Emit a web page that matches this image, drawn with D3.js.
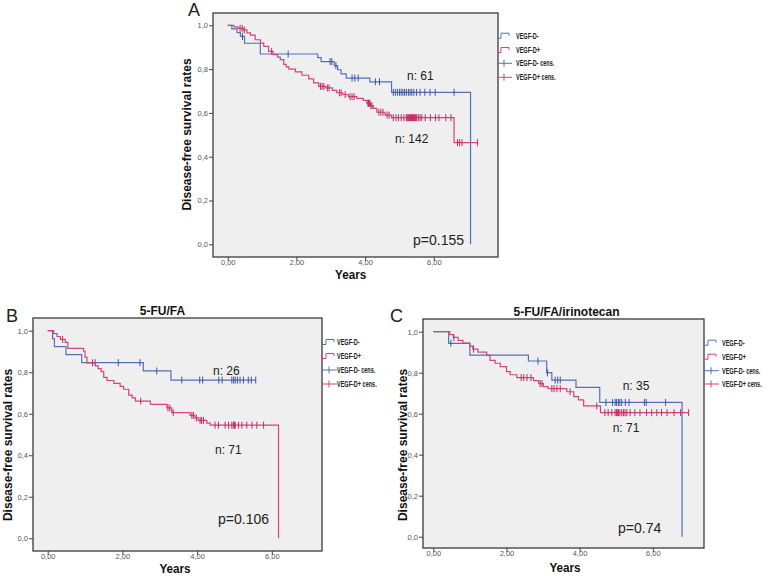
<!DOCTYPE html>
<html><head><meta charset="utf-8">
<script src="https://cdn.jsdelivr.net/npm/d3@7"></script>
<style>body{margin:0;background:#fff} svg{display:block} text{font-family:Arial,"Liberation Sans",sans-serif}</style>
</head><body><svg id="c" width="778" height="576"></svg>
<script>
// ---------- data ----------
const yTicks = [0, 0.2, 0.4, 0.6, 0.8, 1.0];
const yTickLabels = ["0,0", "0,2", "0,4", "0,6", "0,8", "1,0"];
const xTicks = [0, 2, 4, 6];
const xTickLabels = ["0,00", "2,00", "4,00", "6,00"];
const legendLabels = ["VEGF-D-", "VEGF-D+", "VEGF-D- cens.", "VEGF-D+ cens."];
const panelLetters = ["A", "B", "C"];
const panelTitles = ["", "5-FU/FA", "5-FU/FA/irinotecan"];
const nNegLabels = ["n: 61", "n: 26", "n: 35"];
const nPosLabels = ["n: 142", "n: 71", "n: 71"];
const pLabels = ["p=0.155", "p=0.106", "p=0.74"];
const yAxisTitle = "Disease-free survival rates";
const xAxisTitle = "Years";

// Panel A  [years, survival]
const stepsANeg = [[0,1],[0.12,0.984],[0.27,0.967],[0.37,0.949],[0.49,0.918],[0.95,0.869],[2.62,0.852],[2.72,0.834],[3.1,0.816],[3.2,0.797],[3.3,0.778],[3.45,0.759],[4.14,0.742],[4.77,0.694],[7.07,0]];
const censANeg = [0.43,1.76,2.98,3.03,3.15,3.62,3.7,3.8,4.3,4.42,4.82,4.88,4.94,5.0,5.05,5.1,5.15,5.2,5.26,5.31,5.36,5.42,5.5,5.6,5.74,5.89,6.04,6.59];
const stepsAPos = [[0,1],[0.18,0.993],[0.3,0.986],[0.45,0.979],[0.56,0.965],[0.66,0.955],[0.8,0.934],[0.95,0.919],[1.05,0.904],[1.19,0.881],[1.32,0.866],[1.45,0.855],[1.53,0.843],[1.63,0.822],[1.7,0.81],[1.78,0.8],[1.97,0.787],[2.16,0.772],[2.36,0.755],[2.5,0.737],[2.65,0.721],[2.85,0.714],[3.05,0.703],[3.17,0.692],[3.35,0.684],[3.51,0.674],[3.76,0.666],[3.95,0.657],[4.05,0.644],[4.15,0.633],[4.24,0.621],[4.34,0.603],[4.58,0.59],[4.77,0.578],[6.59,0.464]];
const censAPos = [0.36,0.42,0.48,1.28,2.7,2.75,2.8,2.9,2.95,3.25,3.3,3.42,3.56,3.62,3.68,4.08,4.1,4.12,4.14,4.17,4.2,4.4,4.46,4.52,4.64,4.7,4.82,4.9,4.97,5.05,5.13,5.2,5.23,5.26,5.29,5.32,5.35,5.38,5.41,5.44,5.47,5.5,5.55,5.6,5.65,5.75,5.9,6.05,6.15,6.35,6.5,6.69,6.75,6.82,7.27];

// Panel B
const stepsBNeg = [[0,1],[0.13,0.962],[0.18,0.923],[0.49,0.885],[0.91,0.846],[2.56,0.806],[3.3,0.762]];
const censBNeg = [1.27,1.89,2.47,2.92,3.59,4.07,4.15,4.58,4.67,4.93,4.98,5.02,5.08,5.15,5.24,5.37,5.45,5.57];
const stepsBPos = [[0,1],[0.16,0.986],[0.25,0.972],[0.34,0.958],[0.47,0.944],[0.54,0.915],[0.96,0.901],[1.0,0.873],[1.05,0.845],[1.28,0.831],[1.35,0.817],[1.43,0.803],[1.5,0.775],[1.59,0.76],[1.77,0.746],[1.94,0.732],[2.03,0.718],[2.17,0.69],[2.26,0.676],[2.35,0.661],[2.75,0.645],[3.19,0.628],[3.32,0.605],[3.81,0.592],[3.94,0.58],[4.03,0.568],[4.26,0.555],[4.35,0.545],[6.18,0]];
const censBPos = [0.4,1.2,2.49,3.22,3.27,3.36,3.86,3.9,3.98,4.08,4.12,4.17,4.48,4.57,4.75,4.84,4.93,4.97,5.0,5.02,5.11,5.2,5.33,5.47,5.6,5.78];

// Panel C
const stepsCNeg = [[0,1],[0.42,0.943],[1.0,0.886],[2.6,0.857],[3.1,0.8],[3.24,0.764],[3.9,0.728],[4.55,0.655],[6.8,0]];
const censCNeg = [0.48,2.86,3.12,3.33,3.4,3.47,4.72,4.9,4.97,5.01,5.06,5.1,5.15,5.25,5.35,5.77,5.82,6.35];
const stepsCPos = [[0,1],[0.45,0.986],[0.55,0.972],[0.68,0.958],[0.81,0.944],[1.0,0.93],[1.08,0.915],[1.22,0.9],[1.46,0.886],[1.55,0.86],[1.69,0.846],[1.83,0.83],[2.0,0.805],[2.1,0.79],[2.28,0.776],[2.74,0.761],[2.88,0.747],[3.01,0.732],[3.14,0.722],[3.65,0.707],[3.84,0.683],[3.97,0.667],[4.11,0.638],[4.57,0.605]];
const censCPos = [0.56,1.1,2.4,2.47,2.56,2.67,2.92,2.97,3.24,3.3,3.38,3.47,3.74,4.47,4.69,4.78,4.88,4.97,5.01,5.04,5.06,5.1,5.15,5.2,5.24,5.29,5.38,5.51,5.65,5.83,5.97,6.11,6.24,6.39,6.58,6.76,6.98];

// ---------- layout ----------
const COL_NEG = "#5670b6", COL_NEG_C = "#3d55a6";
const COL_POS = "#d0457a", COL_POS_C = "#c42a66";

const panels = [
  {frame:[213,13,498,257], xr:[227.7,433.8], yr:[244.3,25.3], legX:497, legTX:516, legY:[35.7,50,63.3,77.3],
   letter:[188,16], title:null, ylab:[191,134.5], years:[350.7,278.5], nNegP:[407,80], nPosP:[395,143], pP:[413,244.5],
   neg:stepsANeg, pos:stepsAPos, cneg:censANeg, cpos:censAPos},
  {frame:[33,318,322,551], xr:[47.7,271.8], yr:[538.3,330.7], legX:322, legTX:337, legY:[342,356,370,384],
   letter:[6,322], title:[162.5,315], ylab:[12,445], years:[175,573], nNegP:[213,375], nPosP:[215,454], pP:[218,523.5],
   neg:stepsBNeg, pos:stepsBPos, cneg:censBNeg, cpos:censBPos},
  {frame:[423,319,704,548], xr:[433.3,652.8], yr:[536.7,331.7], legX:704, legTX:722, legY:[342.7,356.7,370.7,384],
   letter:[390,322], title:[566.5,316], ylab:[407,445], years:[565,571.5], nNegP:[622.7,390], nPosP:[612.7,431.7], pP:[618,533],
   neg:stepsCNeg, pos:stepsCPos, cneg:censCNeg, cpos:censCPos}
];

const svg = d3.select("#c");

function txt(g, x, y, s, o) {
  o = o || {};
  return g.append("text")
    .attr("transform", `translate(${x},${y})` + (o.rot ? ` rotate(${o.rot})` : "") + ` scale(${o.sx || 1},1)`)
    .attr("font-size", o.size || 10)
    .attr("font-weight", o.bold ? "bold" : "normal")
    .attr("fill", o.fill || "#222")
    .attr("text-anchor", o.anchor || "start")
    .text(s);
}

function survAt(steps, t) {
  let s = steps[0][1];
  for (const d of steps) { if (d[0] <= t) s = d[1]; }
  return s;
}

panels.forEach((p, i) => {
  const g = svg.append("g");
  const [fx0, fy0, fx1, fy1] = p.frame;
  const x = d3.scaleLinear().domain([0, 6]).range(p.xr);
  const y = d3.scaleLinear().domain([0, 1]).range(p.yr);

  g.append("rect").attr("x", fx0).attr("y", fy0).attr("width", fx1 - fx0).attr("height", fy1 - fy0)
    .attr("fill", "#efefef").attr("stroke", "none");

  // y axis
  const ya = d3.axisLeft(y).tickValues(yTicks).tickSize(4).tickFormat((d, k) => yTickLabels[k]);
  const yg = g.append("g").attr("transform", `translate(${fx0},0)`).call(ya);
  yg.select(".domain").remove();
  yg.selectAll("line").attr("stroke", "#444");
  yg.selectAll("text").attr("font-size", 7.5).attr("fill", "#555").attr("x", -5).attr("dy", "0.32em")
    .attr("font-family", "Arial, 'Liberation Sans', sans-serif");

  // x axis
  const xa = d3.axisBottom(x).tickValues(xTicks).tickSize(4).tickFormat((d, k) => xTickLabels[k]);
  const xg = g.append("g").attr("transform", `translate(0,${fy1})`).call(xa);
  xg.select(".domain").remove();
  xg.selectAll("line").attr("stroke", "#444");
  xg.selectAll("text").attr("font-size", 7.5).attr("fill", "#555").attr("y", 3).attr("dy", "0.71em")
    .attr("font-family", "Arial, 'Liberation Sans', sans-serif");

  // curves
  const series = [
    {steps: p.neg, cens: p.cneg, col: COL_NEG, ccol: COL_NEG_C},
    {steps: p.pos, cens: p.cpos, col: COL_POS, ccol: COL_POS_C}
  ];
  series.forEach(sr => {
    const end = Math.max(sr.steps[sr.steps.length - 1][0], d3.max(sr.cens));
    let d = `M${x(sr.steps[0][0])},${y(sr.steps[0][1])}`;
    for (let k = 1; k < sr.steps.length; k++) {
      d += `H${x(sr.steps[k][0])}V${y(sr.steps[k][1])}`;
    }
    d += `H${x(end)}`;
    g.append("path").attr("d", d).attr("fill", "none").attr("stroke", sr.col).attr("stroke-width", 1.2);
    g.selectAll(null).data(sr.cens).enter().append("line")
      .attr("x1", t => x(t)).attr("x2", t => x(t))
      .attr("y1", t => y(survAt(sr.steps, t)) - 3.5).attr("y2", t => y(survAt(sr.steps, t)) + 3.5)
      .attr("stroke", sr.ccol).attr("stroke-width", 1);
  });

  // frame
  g.append("rect").attr("x", fx0).attr("y", fy0).attr("width", fx1 - fx0).attr("height", fy1 - fy0)
    .attr("fill", "none").attr("stroke", "#3a3a3a").attr("stroke-width", 1.3);

  // legend
  const lg = g.append("g");
  const lx = p.legX;
  legendLabels.forEach((lab, k) => {
    const ly = p.legY[k];
    const col = (k % 2 === 0) ? COL_NEG : COL_POS;
    if (k < 2) {
      lg.append("path").attr("d", `M${lx},${ly + 2.5}H${lx + 4}V${ly - 2.5}H${lx + 12}V${ly}`)
        .attr("fill", "none").attr("stroke", col).attr("stroke-width", 1);
    } else {
      lg.append("line").attr("x1", lx).attr("x2", lx + 15).attr("y1", ly).attr("y2", ly).attr("stroke", col).attr("stroke-width", 1);
      lg.append("line").attr("x1", lx + 7).attr("x2", lx + 7).attr("y1", ly - 3.5).attr("y2", ly + 3.5).attr("stroke", col).attr("stroke-width", 1);
    }
    txt(lg, p.legTX, ly + 3, lab, {size: 8.5, bold: true, sx: 0.65, fill: "#222"});
  });

  // texts
  txt(g, p.letter[0], p.letter[1], panelLetters[i], {size: 18, fill: "#222"});
  if (p.title) txt(g, p.title[0], p.title[1], panelTitles[i], {size: 12, bold: true, anchor: "middle", fill: "#111"});
  txt(g, p.ylab[0], p.ylab[1], yAxisTitle, {size: 12, bold: true, anchor: "middle", rot: -90, fill: "#111"});
  txt(g, p.years[0], p.years[1], xAxisTitle, {size: 13, bold: true, anchor: "middle", sx: 0.9, fill: "#111"});
  txt(g, p.nNegP[0], p.nNegP[1], nNegLabels[i], {size: 12, fill: "#222"});
  txt(g, p.nPosP[0], p.nPosP[1], nPosLabels[i], {size: 12, fill: "#222"});
  txt(g, p.pP[0], p.pP[1], pLabels[i], {size: 14, fill: "#222"});
});
</script>
</body></html>
